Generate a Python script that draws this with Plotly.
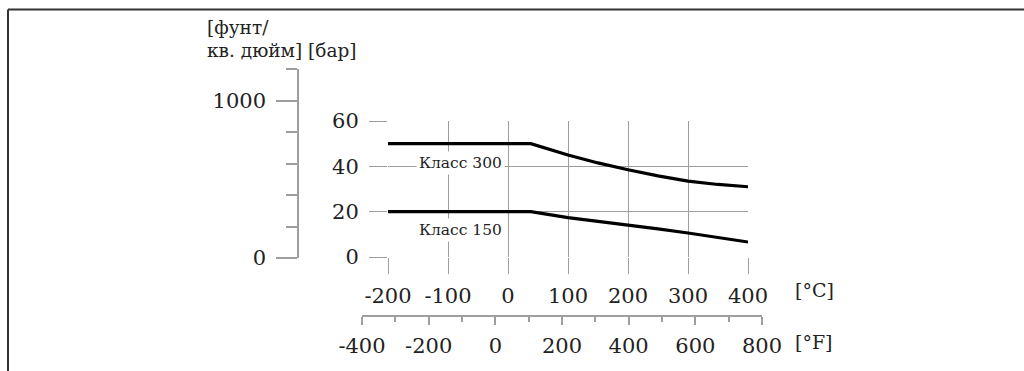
import plotly.graph_objects as go

W, H = 1024, 371

# data (temperature in degC, pressure in bar)
temp_c = [-200, 38, 100, 150, 200, 250, 300, 350, 400]
class_300 = [50, 50, 45, 41.5, 38.5, 35.8, 33.5, 32, 31]
class_150 = [20, 20, 17.4, 15.8, 14.3, 12.4, 10.6, 8.6, 6.6]
series_names = ["Класс 300", "Класс 150"]

c_ticks = [-200, -100, 0, 100, 200, 300, 400]
f_ticks = [-400, -200, 0, 200, 400, 600, 800]
bar_ticks = [0, 20, 40, 60]
psi_ticks = [0, 1000]

psi_per_bar = 14.5038
temp_f = [c * 9 / 5 + 32 for c in temp_c]

FONT = "DejaVu Serif"
TXT = "#222222"
GRID = "#9e9e9e"


def px_x(p):
    return p / W


def px_y(p):
    return 1 - p / H


def labels(vals):
    # plain hyphen instead of plotly's unicode minus
    return [str(v) for v in vals]


fig = go.Figure()
for name, vals in zip(series_names, [class_300, class_150]):
    fig.add_trace(go.Scatter(x=temp_c, y=vals, mode="lines", name=name,
                             line=dict(color="black", width=3.2),
                             xaxis="x", yaxis="y", hoverinfo="skip"))
    # same curve in psi / degF so the secondary axes exist
    fig.add_trace(go.Scatter(x=[0] * len(vals), y=[v * psi_per_bar for v in vals],
                             mode="lines", opacity=0, xaxis="x3", yaxis="y2",
                             showlegend=False, hoverinfo="skip"))
    fig.add_trace(go.Scatter(x=temp_f, y=vals, mode="lines", opacity=0,
                             xaxis="x2", yaxis="y3", showlegend=False,
                             hoverinfo="skip"))

tickfont = dict(family=FONT, size=21, color=TXT)

fig.update_layout(
    width=W, height=H,
    margin=dict(l=0, r=0, t=0, b=0, pad=0, autoexpand=False),
    paper_bgcolor="white", plot_bgcolor="rgba(0,0,0,0)",
    showlegend=False,
    font=dict(family=FONT, color=TXT),
    xaxis=dict(domain=[px_x(388), px_x(748)], range=[-200, 400],
               tickvals=c_ticks, ticktext=labels(c_ticks),
               showgrid=True, gridcolor=GRID, gridwidth=1.3,
               zeroline=False, showline=False, automargin=False,
               ticks="outside", ticklen=16, tickcolor=GRID, tickwidth=1.3,
               ticklabelstandoff=4, tickfont=tickfont, anchor="y"),
    yaxis=dict(domain=[px_y(257), px_y(121)], range=[0, 60],
               tickvals=bar_ticks, ticktext=labels(bar_ticks),
               showgrid=True, gridcolor=GRID, gridwidth=1.3,
               zeroline=False, showline=False, automargin=False,
               ticks="outside", ticklen=18, tickcolor=GRID, tickwidth=1.3,
               ticklabelstandoff=6, tickfont=tickfont, anchor="x"),
    xaxis2=dict(domain=[px_x(362), px_x(762)], range=[-400, 800],
                anchor="free", position=px_y(316), automargin=False,
                tickvals=f_ticks, ticktext=labels(f_ticks),
                showgrid=False, zeroline=False,
                showline=True, linecolor=GRID, linewidth=1.5,
                ticks="outside", ticklen=8, tickcolor=GRID, tickwidth=1.5,
                minor=dict(dtick=100, ticks="outside", ticklen=5,
                           tickcolor=GRID, tickwidth=1.5, showgrid=False),
                ticklabelstandoff=3, tickfont=tickfont),
    yaxis3=dict(domain=[px_y(257), px_y(121)], range=[0, 60], anchor="x2",
                visible=False, automargin=False),
    yaxis2=dict(domain=[px_y(258), px_y(69)], range=[0, 1200],
                anchor="free", position=px_x(298), side="left",
                automargin=False,
                tickvals=psi_ticks, ticktext=labels(psi_ticks),
                showgrid=False, zeroline=False,
                showline=True, linecolor=GRID, linewidth=1.5,
                ticks="outside", ticklen=21, tickcolor=GRID, tickwidth=1.5,
                minor=dict(dtick=200, ticks="outside", ticklen=11,
                           tickcolor=GRID, tickwidth=1.5, showgrid=False),
                ticklabelstandoff=6, tickfont=tickfont),
    xaxis3=dict(domain=[px_x(290), px_x(298)], range=[-1, 1], anchor="y2",
                visible=False, automargin=False),
)

# series labels on white background
for name, (cx, cy) in zip(series_names, [(-80, 41.5), (-80, 11.8)]):
    fig.add_annotation(x=cx, y=cy, xref="x", yref="y", text=name,
                       showarrow=False, bgcolor="white", borderpad=2,
                       font=dict(family=FONT, size=15.5, color=TXT))

# unit labels
ann = [
    ("[фунт/", 205, 28, "left", 18.5),
    ("кв. дюйм] [бар]", 205, 50, "left", 18.5),
    ("[°C]", 814, 290, "center", 19),
    ("[°F]", 814, 342, "center", 19),
]
for text, x, y, anchor, size in ann:
    fig.add_annotation(x=px_x(x), y=px_y(y), xref="paper", yref="paper",
                       text=text, showarrow=False, xanchor=anchor,
                       yanchor="middle",
                       font=dict(family=FONT, size=size, color=TXT))

# frame lines top/left
fig.add_shape(type="line", xref="paper", yref="paper",
              x0=px_x(8), x1=1, y0=px_y(9.5), y1=px_y(9.5),
              line=dict(color="#333333", width=2))
fig.add_shape(type="line", xref="paper", yref="paper",
              x0=px_x(8), x1=px_x(8), y0=px_y(9.5), y1=0,
              line=dict(color="#333333", width=2))

fig.write_html("out.html", config={"displayModeBar": False},
               post_script="document.body.style.margin='0';")
